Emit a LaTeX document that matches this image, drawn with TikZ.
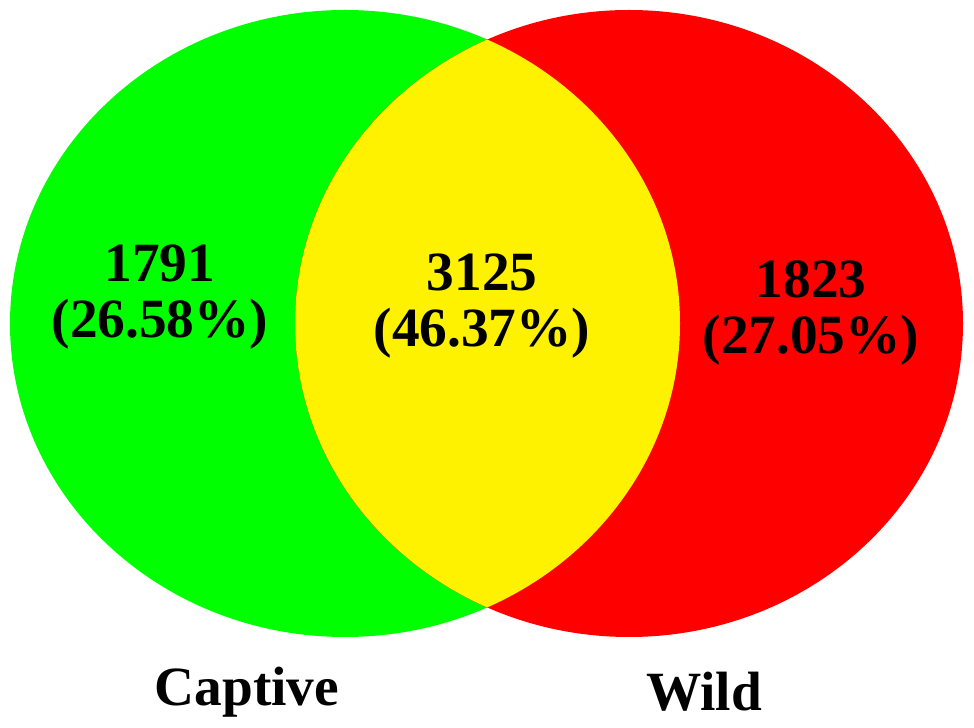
\documentclass[tikz,border=0pt]{standalone}
\usepackage{fontspec}
\setmainfont{Liberation Serif}

\begin{document}
\begin{tikzpicture}[every node/.style={font=\bfseries\fontsize{31.5}{31.5}\selectfont, align=center, inner sep=0pt}]
  \useasboundingbox (0,0) rectangle (19.48,-14.56);

  \fill[green] (6.9,-6.47) ellipse [x radius=6.7, y radius=6.27];
  \fill[red] (12.58,-6.47) ellipse [x radius=6.68, y radius=6.27];
  \begin{scope}
    \clip (6.9,-6.47) ellipse [x radius=6.7, y radius=6.27];
    \fill[yellow] (12.58,-6.47) ellipse [x radius=6.68, y radius=6.27];
  \end{scope}

  \node (onlycaptive) at (3.2,-5.94) {1791\\(26.58\%)};
  \node (both) at (9.64,-6.12) {3125\\(46.37\%)};
  \node (onlywild) at (16.22,-6.26) {1823\\(27.05\%)};

  \node[anchor=base] (captive) at (4.94,-14.1) {Captive};
  \node[anchor=base] (wild) at (14.08,-14.2) {Wild};
\end{tikzpicture}
\end{document}
